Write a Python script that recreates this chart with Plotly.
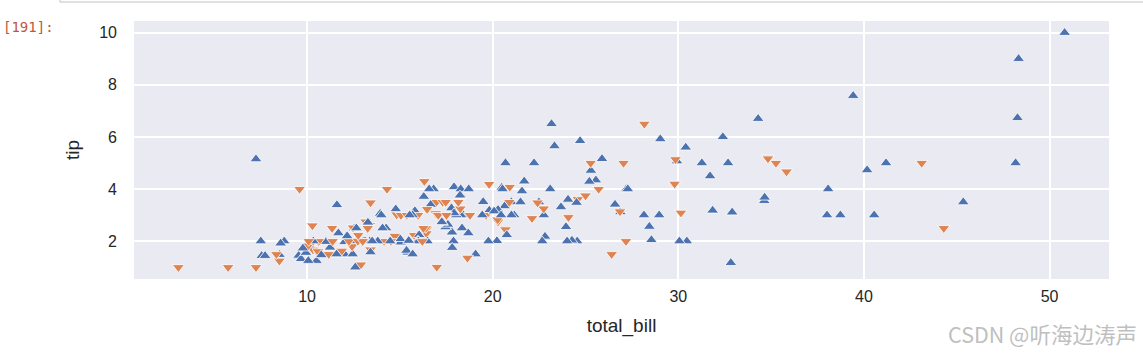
import plotly.graph_objects as go

total_bill = [16.99,10.34,21.01,23.68,24.59,25.29,8.77,26.88,15.04,14.78,10.27,35.26,15.42,18.43,14.83,21.58,10.33,16.29,16.97,20.65,
17.92,20.29,15.77,39.42,19.82,17.81,13.37,12.69,21.7,19.65,9.55,18.35,15.06,20.69,17.78,24.06,16.31,16.93,18.69,31.27,
16.04,17.46,13.94,9.68,30.4,18.29,22.23,32.4,28.55,18.04,12.54,10.29,34.81,9.94,25.56,19.49,38.01,26.41,11.24,48.27,
20.29,13.81,11.02,18.29,17.59,20.08,16.45,3.07,20.23,15.01,12.02,17.07,26.86,25.28,14.73,10.51,17.92,27.2,22.76,17.29,
19.44,16.66,10.07,32.68,15.98,34.83,13.03,18.28,24.71,21.16,28.97,22.49,5.75,16.32,22.75,40.17,27.28,12.03,21.01,12.46,
11.35,15.38,44.3,22.42,20.92,15.36,20.49,25.21,18.24,14.31,14.0,7.25,38.07,23.95,25.71,17.31,29.93,10.65,12.43,24.08,
11.69,13.42,14.26,15.95,12.48,29.8,8.52,14.52,11.38,22.82,19.08,20.27,11.17,12.26,18.26,8.51,10.33,14.15,16.0,13.16,
17.47,34.3,41.19,27.05,16.43,8.35,18.64,11.87,9.78,7.51,14.07,13.13,17.26,24.55,19.77,29.85,48.17,25.0,13.39,16.49,
21.5,12.66,16.21,13.81,17.51,24.52,20.76,31.71,10.59,10.63,50.81,15.81,7.25,31.85,16.82,32.9,17.89,14.48,9.6,34.63,
34.65,23.33,45.35,23.17,40.55,20.69,20.9,30.46,18.15,23.1,15.69,19.81,28.44,15.48,16.58,7.56,10.34,43.11,13.0,13.51,
18.71,12.74,13.0,16.4,20.53,16.47,26.59,38.73,24.27,12.76,30.06,25.89,48.33,13.27,28.17,12.9,28.15,11.59,7.74,30.14,
12.16,13.42,8.58,15.98,13.42,16.27,10.09,20.45,13.28,22.12,24.01,15.69,11.61,10.77,15.53,10.07,12.6,32.83,35.83,29.03,
27.18,22.67,17.82,18.78]

tip = [1.01,1.66,3.5,3.31,3.61,4.71,2.0,3.12,1.96,3.23,1.71,5.0,1.57,3.0,3.02,3.92,1.67,3.71,3.5,3.35,
4.08,2.75,2.23,7.58,3.18,2.34,2.0,2.0,4.3,3.0,1.45,2.5,3.0,2.45,3.27,3.6,2.0,3.07,2.31,5.0,
2.24,2.54,3.06,1.32,5.6,3.0,5.0,6.0,2.05,3.0,2.5,2.6,5.2,1.56,4.34,3.51,3.0,1.5,1.76,6.73,
3.21,2.0,1.98,3.76,2.64,3.15,2.47,1.0,2.01,2.09,1.97,3.0,3.14,5.0,2.2,1.25,3.08,4.0,3.0,2.71,
3.0,3.4,1.83,5.0,2.03,5.17,2.0,4.0,5.85,3.0,3.0,3.5,1.0,4.3,3.25,4.73,4.0,1.5,3.0,1.5,
2.5,3.0,2.5,3.48,4.08,1.64,4.06,4.29,3.76,4.0,3.0,1.0,4.0,2.55,4.0,3.5,5.07,1.5,1.8,2.92,
2.31,1.68,2.5,2.0,2.52,4.2,1.48,2.0,2.0,2.18,1.5,2.83,1.5,2.0,3.25,1.25,2.0,2.0,2.0,2.75,
3.5,6.7,5.0,5.0,2.3,1.5,1.36,1.63,1.73,2.0,2.5,2.0,2.74,2.0,2.0,5.14,5.0,3.75,2.61,2.0,
3.5,2.5,2.0,2.0,3.0,3.48,2.24,4.5,1.61,2.0,10.0,3.16,5.15,3.18,4.0,3.11,2.0,2.0,4.0,3.55,
3.68,5.65,3.5,6.5,3.0,5.0,3.5,2.0,3.5,4.0,1.5,4.19,2.56,2.02,4.0,1.44,2.0,5.0,2.0,2.0,
4.0,2.01,2.0,2.5,4.0,3.23,3.41,3.0,2.03,2.23,2.0,5.16,9.0,2.5,6.5,1.1,3.0,1.5,1.44,3.09,
2.2,3.48,1.92,3.0,1.58,2.5,2.0,3.0,2.72,2.88,2.0,3.0,3.39,1.47,3.0,1.25,1.0,1.17,4.67,5.92,
2.0,2.0,1.75,3.0]

sex = (
    "F M M M F M M M M M M F M M F M F M F M "
    "M F F M M M M M M F M M F F M M M F M M "
    "M M M M M M M M M M M F F M M M M F M M "
    "M M M M M M F F M M M F F F F M M M M M "
    "M M F M M F M M M M M M F F F M M M M M "
    "F F F F F M M M M F M F M M F F M F F F "
    "M F M M F F M F F M M F F F F F F F M F "
    "F M M F F F F F M M M M M M M F M F F M "
    "M M F M F M M M F F M M M M M M M M F M "
    "M M M M M M F M F M M F M M M M M F F M "
    "M F F F M F M M M F M M M F F F M M M F "
    "M F M F M F F M M F M M M M M M M M F M "
    "F M M F"
).split()

categories = ["Male", "Female"]
colors = {"Male": "#4c72b0", "Female": "#dd8452"}
symbols = {"Male": "triangle-up", "Female": "triangle-down"}
sex_full = ["Male" if s == "M" else "Female" for s in sex]

x_ticks = [10, 20, 30, 40, 50]
y_ticks = [2, 4, 6, 8, 10]

fig = go.Figure()
fig.add_trace(go.Scatter(
    x=total_bill, y=tip, mode="markers",
    marker=dict(
        symbol=[symbols[s] for s in sex_full],
        color=[colors[s] for s in sex_full],
        size=10.5,
        line=dict(color="white", width=0.8),
    ),
    showlegend=False,
))

W, H = 1143, 355
L, R, T, B = 134, 34, 21, 76
pw, ph = W - L - R, H - T - B

font_family = "Liberation Sans, Arial, sans-serif"
fig.update_layout(
    width=W, height=H,
    margin=dict(l=L, r=R, t=T, b=B, pad=0),
    paper_bgcolor="white",
    plot_bgcolor="#eaeaf2",
    font=dict(family=font_family, color="#262626", size=16),
    xaxis=dict(
        range=[0.68, 53.2], tickvals=x_ticks, showgrid=True, gridcolor="white", gridwidth=1.5,
        zeroline=False, showline=False, ticks="", automargin=False,
        tickfont=dict(size=16, color="#262626"),
        ticklabelstandoff=6,
        title=dict(text="total_bill", font=dict(size=19, color="#262626"), standoff=14),
    ),
    yaxis=dict(
        range=[0.55, 10.45], tickvals=y_ticks, showgrid=True, gridcolor="white", gridwidth=1.5,
        zeroline=False, showline=False, ticks="", automargin=False,
        tickfont=dict(size=16, color="#262626"),
        ticklabelstandoff=16,
        title=dict(text="tip", font=dict(size=19, color="#262626"), standoff=14),
    ),
)

# Jupyter cell artefacts
def px_x(x):
    return (x - L) / pw

def px_y(y):
    return 1 + (T - y) / ph

fig.add_shape(type="line", xref="paper", yref="paper", x0=px_x(60), x1=px_x(1143),
              y0=px_y(2), y1=px_y(2), line=dict(color="#d6d6d6", width=1.5))
fig.add_shape(type="line", xref="paper", yref="paper", x0=px_x(60), x1=px_x(60),
              y0=px_y(2), y1=px_y(0), line=dict(color="#d6d6d6", width=1.5))
fig.add_annotation(text="[191]:", xref="paper", yref="paper", x=px_x(1), y=px_y(27),
                   xanchor="left", yanchor="middle", showarrow=False,
                   font=dict(family="DejaVu Sans Mono, monospace", size=14, color="#c0563a"))
fig.add_annotation(text="CSDN @听海边涛声", xref="paper", yref="paper", x=px_x(1139), y=px_y(333),
                   xanchor="right", yanchor="middle", showarrow=False,
                   font=dict(family="Noto Sans CJK SC", size=21.5, color="#bfbfbf"))

fig.write_html("out.html", config={"displayModeBar": False},
               post_script="document.body.style.margin='0';")
